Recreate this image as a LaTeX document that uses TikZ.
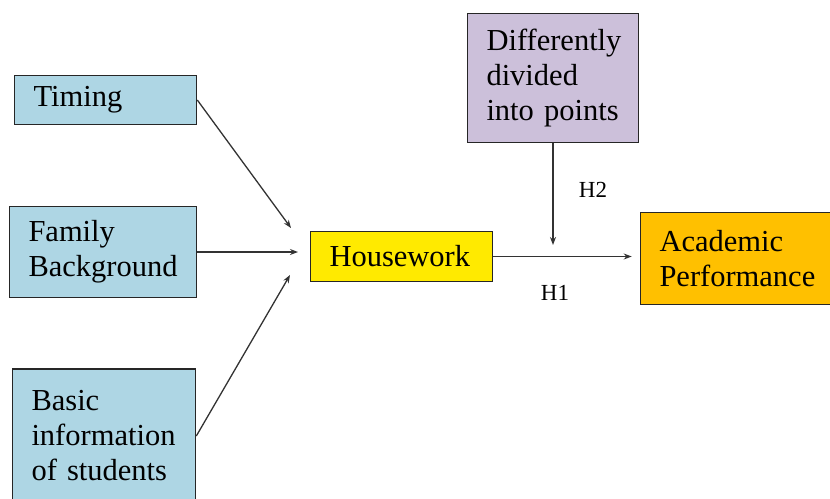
\documentclass[tikz,border=0pt]{standalone}
\usepackage{fontspec}
\setmainfont{Liberation Serif}
\usetikzlibrary{arrows.meta}

\definecolor{boxblue}{RGB}{174,214,228}
\definecolor{boxyellow}{RGB}{255,234,0}
\definecolor{boxlilac}{RGB}{204,192,218}
\definecolor{boxorange}{RGB}{255,192,0}

\tikzset{
  box/.style={draw=black!85,line width=1.6pt,align=left,inner xsep=19pt,
    font=\fontsize{30.5}{35}\selectfont},
  link/.style={-{Stealth[length=8pt,width=6pt]},draw=black!80,line width=1.3pt},
  hyp/.style={font=\fontsize{23}{26}\selectfont}
}

\begin{document}
\begin{tikzpicture}[x=1pt,y=-1pt]
    \useasboundingbox (0,0) rectangle (830,498);
    \clip (0,0) rectangle (830,498);

    \node[box,fill=boxblue,text width=144pt,minimum height=49pt] (timing) at (105.5,100) {Timing};
    \node[box,fill=boxblue,text width=149pt,minimum height=91pt] (family) at (103,252) {Family\\Background};
    \node[box,fill=boxblue,text width=145pt,minimum height=134pt] (basic) at (104,436) {Basic\\information\\of students};
    \node[box,fill=boxyellow,text width=144pt,minimum height=50pt] (house) at (401.5,256.5) {Housework};
    \node[box,fill=boxlilac,text width=133pt,minimum height=129pt] (diff) at (553,78) {Differently\\divided\\into points};
    \node[box,fill=boxorange,text width=153pt,minimum height=92pt] (acad) at (736,258.5) {Academic\\Performance};

    \coordinate (inT) at (291,228);
    \coordinate (inF) at (298,252);
    \coordinate (inB) at (290,275);
    \coordinate (mod) at (553,245);

    \draw[link] (timing.east) -- (inT);
    \draw[link] (family.east) -- (inF);
    \draw[link] (basic.east) -- (inB);
    \draw[link,shorten >=8pt] (house.east) -- (house.east -| acad.west);
    \draw[link] (diff.south) -- (mod);

    \node[hyp] (h2) at (593,190) {H2};
    \node[hyp] (h1) at (555,293) {H1};
\end{tikzpicture}
\end{document}
